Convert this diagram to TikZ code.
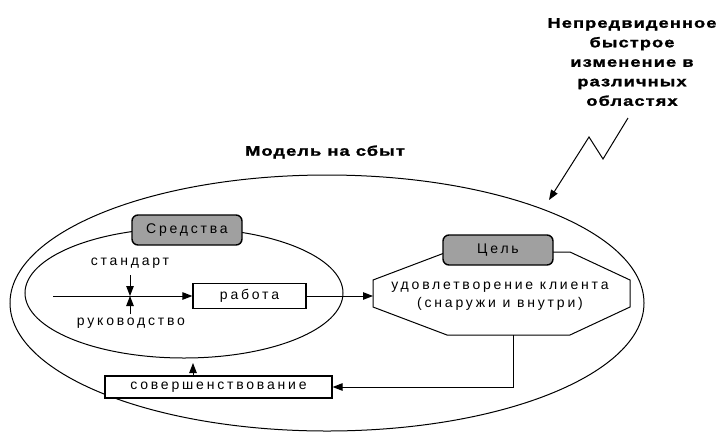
\documentclass[tikz,border=0pt]{standalone}
\usepackage{fontspec}
\setmainfont{Liberation Sans}
\newfontfamily\lblfont[LetterSpace=20]{Liberation Sans}
\newfontfamily\headfont[FakeStretch=1.3,LetterSpace=8,FakeBold=1.5]{Liberation Sans}
\usetikzlibrary{arrows.meta,shapes.geometric}

\definecolor{capgray}{RGB}{160,160,160}

\tikzset{
  lbl/.style={font=\lblfont\fontsize{14}{17}\selectfont, inner sep=0pt},
  head/.style={font=\headfont\bfseries\fontsize{14}{19.5}\selectfont, align=center, inner sep=0pt},
  arr/.style={-{Triangle[length=10pt,width=7.5pt]}},
  capbox/.style={draw, line width=1.4pt, rounded corners=6pt, fill=capgray,
              minimum width=110pt, minimum height=30pt, lbl},
  stepbox/.style={draw, line width=1.2pt, fill=white, lbl},
  oval/.style={draw, ellipse, inner sep=0pt, line width=1pt}
}

\begin{document}
\begin{tikzpicture}[x=1pt, y=-1pt, line width=1pt]
\useasboundingbox (0,0) rectangle (728,432);

% outer scope: the market model
\node[oval, minimum width=634pt, minimum height=256pt] (market) at (327,303) {};
\node[head] (title) at (325,152) {Модель на сбыт};

% external disturbance
\node[head] (shock) at (632,62) {Непредвиденное\\быстрое\\изменение в\\различных\\областях};
\coordinate (b0) at (628,118);
\coordinate (b1) at (603,159);
\coordinate (b2) at (589,137);
\coordinate (b3) at (549,200);
\draw[arr] (b0) -- (b1) -- (b2) -- (b3);

% means
\node[oval, minimum width=318pt, minimum height=130pt] (means) at (184,293) {};
\node[capbox] (meanscap) at (187,230) {Средства};

\node[lbl] (std) at (130,263) {стандарт};
\node[lbl] (lead) at (131,323) {руководство};
\coordinate (src) at (53,296);
\coordinate (jn) at (130,296);
\coordinate (stdfoot) at (130,275);
\coordinate (leadtop) at (130,314);

\node[stepbox, minimum width=113pt, minimum height=25pt] (work) at (249.5,296) {работа};

\draw[arr] (src) -- (work.west);
\draw[arr] (stdfoot) -- (jn);
\draw[arr] (leadtop) -- (jn);

% goal
\draw (373,280) -- (447,252) -- (570,252) -- (630,280) -- (630,307)
      -- (570,335) -- (447,335) -- (373,307) -- cycle;
\coordinate (goalW) at (373,296);
\coordinate (goalS) at (513,335);
\node[lbl, align=center] (goal) at (500,296.5) {удовлетворение клиента\\[1pt](снаружи и внутри)};
\node[capbox] (goalcap) at (498,250) {Цель};

\draw[arr] (work.east) -- (goalW);

% improvement loop
\node[stepbox, minimum width=227pt, minimum height=22pt] (improve) at (218.5,387) {совершенствование};
\draw[arr] (goalS) |- (improve.east);
\coordinate (meansfoot) at (193,363);
\draw[arr] (improve.north -| meansfoot) -- (meansfoot);
\end{tikzpicture}
\end{document}
